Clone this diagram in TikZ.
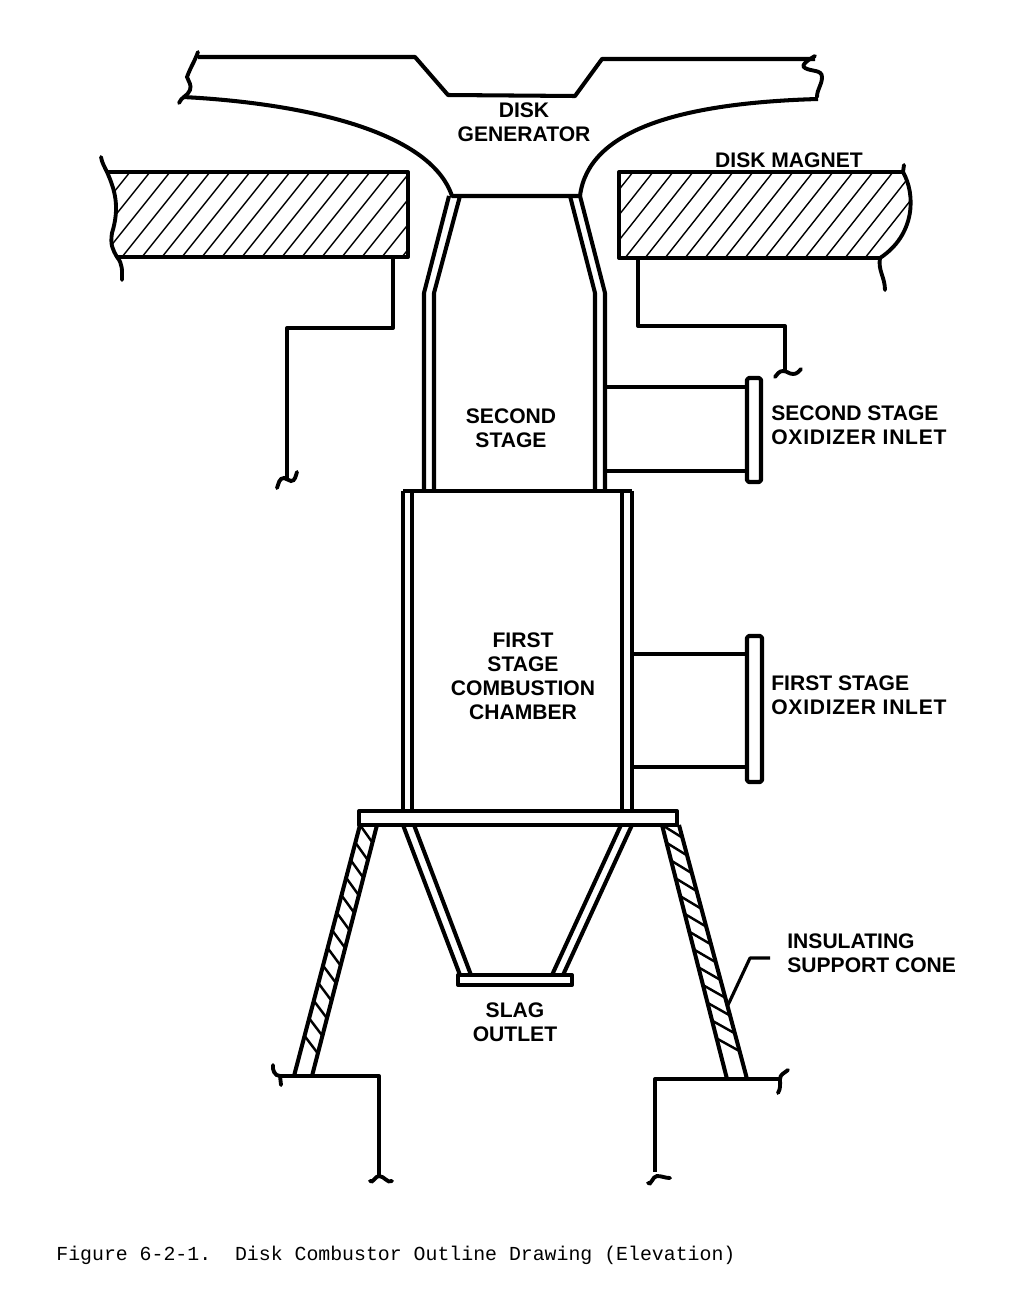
\documentclass[tikz,border=0pt]{standalone}
\usepackage{fontspec}
\setmainfont{Liberation Sans}
\newfontfamily\capfont{Liberation Mono}
\usetikzlibrary{calc}
\newcommand{\spaced}[1]{{\addfontfeature{LetterSpace=3.5}#1}}
\tikzset{
  wall/.style={line width=2.3pt, line join=round},
  wiggle/.style={line width=2.2pt, line cap=round},
  hatch/.style={line width=0.8pt},
  cone hatch/.style={line width=1.4pt},
  label/.style={font=\bfseries\fontsize{12}{13.6}\selectfont, align=center, inner sep=0pt},
  side label/.style={label, align=left, anchor=west}
}
\begin{document}
\begin{tikzpicture}[x=0.02cm,y=-0.02cm]
\useasboundingbox (0,0) rectangle (1029,1315);

% Disk generator
\draw [wall] (198,57) -- (415,57) -- (448,95) -- (575,96) -- (602,59) -- (815,59);
\draw [wall] (183,97) .. controls (300,103) and (430,130) .. (452,196) -- (580,196) .. controls (588,130) and (680,103) .. (818,99);
\draw [wiggle] (198,52) to [out=-110, in=70] (187,77) to [out=-70, in=70] (190,90) to [out=-110, in=70] (179,103);
\draw [wiggle] (815,56) to [out=-150, in=150] (805,68) to [out=-30, in=90] (822,77) to [out=-90, in=90] (817,97);

% Disk magnet, left
\begin{scope}
\clip (107,172) .. controls (115,190) and (120,207) .. (112,233) .. controls (110,245) and (113,250) .. (117,257) -- (408,257) -- (408,172) -- cycle;
\foreach \k in {42,62,...,410}
  \draw [hatch] (\k,257) -- (\k+68,172);
\end{scope}
\draw [wall] (107,172) -- (408,172) -- (408,257) -- (117,257);
\draw [wiggle] (101,157) to [out=-80, in=115] (107,172) .. controls (115,190) and (120,207) .. (112,233) .. controls (110,245) and (113,250) .. (117,257) to [out=-50, in=90] (122,280);

% Disk magnet, right
\begin{scope}
\clip (619,172) -- (903,172) .. controls (916,195) and (915,235) .. (880,258) -- (619,258) -- cycle;
\foreach \k in {545,565,...,910}
  \draw [hatch] (\k,258) -- (\k+68,172);
\end{scope}
\draw [wall] (903,172) -- (619,172) -- (619,258) -- (880,258);
\draw [wiggle] (904,165) -- (903,172) .. controls (916,195) and (915,235) .. (880,258) to [out=-100, in=90] (885,290);

% Structure under the magnet
\draw [wall] (393,258) -- (393,328) -- (287,328) -- (287,480);
\draw [wiggle] (277,488) to [out=70, in=180] (284,478) to [out=0, in=180] (291,481) to [out=0, in=-110] (297,472);
\draw [wall] (638,258) -- (638,326) -- (785,326) -- (785,372);
\draw [wiggle] (775,377) to [out=50, in=180] (783,371) to [out=0, in=180] (793,374) to [out=0, in=-130] (801,369);

% Second stage
\draw [wall] (449,196) -- (424,293) -- (424,491);
\draw [wall] (460,196) -- (434,293) -- (434,491);
\draw [wall] (570,196) -- (595,293) -- (595,491);
\draw [wall] (580,196) -- (605,293) -- (605,491);

% Second stage inlet
\draw [wall] (605,387) -- (747,387);
\draw [wall] (605,471) -- (747,471);
\draw [wall, fill=white, rounded corners=1pt] (747,378) rectangle (761,482);

% First stage
\draw [wall] (403,491) -- (632,491);
\draw [wall] (403,491) -- (403,811);
\draw [wall] (412,491) -- (412,811);
\draw [wall] (622,491) -- (622,811);
\draw [wall] (632,491) -- (632,811);

% First stage inlet
\draw [wall] (632,654) -- (747,654);
\draw [wall] (632,767) -- (747,767);
\draw [wall, fill=white, rounded corners=1pt] (747,636) rectangle (762,782);

% Slag hopper
\draw [wall] (403,825) -- (460,975);
\draw [wall] (414,825) -- (471,975);
\draw [wall] (621,825) -- (552,975);
\draw [wall] (632,825) -- (563,975);
\draw [wall, fill=white] (458,975) rectangle (572,985);

% Insulating cones
\coordinate (coneA) at (360,825);
\coordinate (coneB) at (294,1076);
\coordinate (coneC) at (377,825);
\coordinate (coneD) at (312,1076);
\foreach \t in {0.00,0.07,...,0.90}
  \draw [cone hatch] ($(coneA)!\t!(coneB)$) -- ($(coneC)!\t+0.07!(coneD)$);
\draw [wall] (coneA) -- (coneB);
\draw [wall] (coneC) -- (coneD);

\coordinate (coneE) at (662,825);
\coordinate (coneF) at (727,1079);
\coordinate (coneG) at (679,825);
\coordinate (coneH) at (747,1079);
\foreach \t in {0.00,0.07,...,0.90}
  \draw [cone hatch] ($(coneE)!\t!(coneF)$) -- ($(coneG)!\t+0.05!(coneH)$);
\draw [wall] (coneE) -- (coneF);
\draw [wall] (coneG) .. controls (703,915) and (722,985) .. (coneH);

% Flange plate
\draw [wall, fill=white] (359,811) rectangle (677,825);

% Base
\draw [wall] (280,1076) -- (379,1076) -- (379,1176);
\draw [wiggle] (370,1181) to [out=-40, in=180] (379,1176) to [out=0, in=-150] (392,1181);
\draw [wiggle] (273,1065) to [out=-100, in=180] (280,1076) to [out=-90, in=90] (281,1085);
\draw [wall] (780,1079) -- (655,1079) -- (655,1172);
\draw [wiggle] (648,1183) to [out=-50, in=180] (657,1176) to [out=0, in=180] (670,1178);
\draw [wiggle] (788,1070) to [out=-140, in=90] (780,1079) to [out=-90, in=60] (778,1093);

% Leader
\draw [wall, line width=1.8pt] (770,958) -- (750,958) -- (728,1005);

% Labels
\node [label] (generatorlabel) at (524,122) {DISK\\GENERATOR};
\node [label] (magnetlabel) at (789,160) {DISK MAGNET};
\node [label] (secondlabel) at (511,428) {SECOND\\STAGE};
\node [label] (firstlabel) at (523,676) {FIRST\\STAGE\\COMBUSTION\\CHAMBER};
\node [label] (slaglabel) at (515,1022) {SLAG\\OUTLET};
\node [side label] (secondinlet) at (771,425) {SECOND STAGE\\\spaced{OXIDIZER INLET}};
\node [side label] (firstinlet) at (771,695) {FIRST STAGE\\\spaced{OXIDIZER INLET}};
\node [side label] (conelabel) at (787,953) {INSULATING\\SUPPORT CONE};
\node [anchor=west, inner sep=0pt, font=\capfont\fontsize{11.3}{13}\selectfont] (caption) at (56,1255) {Figure 6-2-1.\ \ Disk Combustor Outline Drawing (Elevation)};
\end{tikzpicture}
\end{document}
